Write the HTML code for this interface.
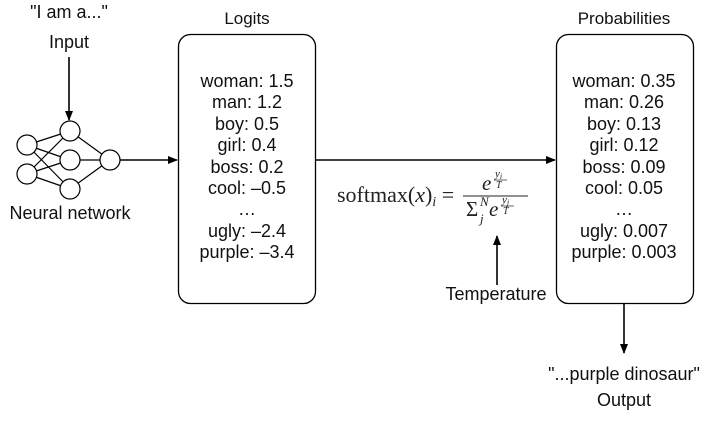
<!DOCTYPE html>
<html><head><style>
html,body{margin:0;padding:0;background:#fff;}
svg{display:block;}
.t{font-family:"Liberation Sans",sans-serif;font-size:18px;fill:#111;}
.m{font-family:"Liberation Serif",serif;fill:#222;}
</style></head><body>
<svg width="703" height="422" viewBox="0 0 703 422" xmlns="http://www.w3.org/2000/svg">
<defs><marker id="a" markerWidth="10" markerHeight="10" refX="9" refY="5" orient="auto" markerUnits="userSpaceOnUse"><path d="M0,1 L10,5 L0,9 Z" fill="#000"/></marker></defs>
<g class="t" text-anchor="middle">
<text x="69" y="18">"I am a..."</text>
<text x="69" y="48">Input</text>
<text x="70" y="219">Neural network</text>
<text x="247" y="24" font-size="17">Logits</text>
<text x="624" y="24" font-size="17">Probabilities</text>
<text x="247" y="87">woman: 1.5</text>
<text x="247" y="108">man: 1.2</text>
<text x="247" y="130">boy: 0.5</text>
<text x="247" y="151">girl: 0.4</text>
<text x="247" y="173">boss: 0.2</text>
<text x="247" y="194">cool: –0.5</text>
<text x="247" y="215">…</text>
<text x="247" y="237">ugly: –2.4</text>
<text x="247" y="258">purple: –3.4</text>
<text x="624" y="87">woman: 0.35</text>
<text x="624" y="108">man: 0.26</text>
<text x="624" y="130">boy: 0.13</text>
<text x="624" y="151">girl: 0.12</text>
<text x="624" y="173">boss: 0.09</text>
<text x="624" y="194">cool: 0.05</text>
<text x="624" y="215">…</text>
<text x="624" y="237">ugly: 0.007</text>
<text x="624" y="258">purple: 0.003</text>
<text x="496" y="300">Temperature</text>
<text x="624" y="380">"...purple dinosaur"</text>
<text x="624" y="406">Output</text>
</g>
<rect x="178.5" y="34.5" width="137" height="269" rx="12" fill="none" stroke="#000" stroke-width="1.3"/>
<rect x="556.5" y="34.5" width="137" height="269" rx="12" fill="none" stroke="#000" stroke-width="1.3"/>
<g stroke="#000" stroke-width="1.2" fill="none">
<line x1="27" y1="145" x2="70" y2="131"/><line x1="27" y1="145" x2="70" y2="160"/><line x1="27" y1="145" x2="70" y2="189"/>
<line x1="27" y1="174" x2="70" y2="131"/><line x1="27" y1="174" x2="70" y2="160"/><line x1="27" y1="174" x2="70" y2="189"/>
<line x1="70" y1="131" x2="110" y2="160"/><line x1="70" y1="160" x2="110" y2="160"/><line x1="70" y1="189" x2="110" y2="160"/>
</g>
<g stroke="#000" stroke-width="1.2" fill="#fff">
<circle cx="27" cy="145" r="10"/><circle cx="27" cy="174" r="10"/>
<circle cx="70" cy="131" r="10"/><circle cx="70" cy="160" r="10"/><circle cx="70" cy="189" r="10"/>
<circle cx="110" cy="160" r="10"/>
</g>
<g stroke="#000" stroke-width="1.6" fill="none">
<line x1="69" y1="57" x2="69" y2="120" marker-end="url(#a)"/>
<line x1="120" y1="160" x2="177" y2="160" marker-end="url(#a)"/>
<line x1="316" y1="160" x2="555" y2="160" marker-end="url(#a)"/>
<line x1="497" y1="285" x2="497" y2="236" marker-end="url(#a)"/>
<line x1="624" y1="304" x2="624" y2="353" marker-end="url(#a)"/>
</g>
<text class="m" x="337" y="202" font-size="22">softmax(<tspan font-style="italic">x</tspan>)<tspan font-size="14" font-style="italic" dy="4">i</tspan><tspan dy="-4"> =</tspan></text>
<line x1="463" y1="196" x2="528" y2="196" stroke="#222" stroke-width="1"/>
<text class="m" x="482" y="190" font-size="21" font-style="italic">e</text>
<text class="m" x="495" y="177" font-size="11" font-style="italic">y<tspan font-size="8" dy="2">i</tspan></text>
<line x1="494" y1="180" x2="507" y2="180" stroke="#222" stroke-width="0.7"/>
<text class="m" x="496" y="188" font-size="10" font-style="italic">T</text>
<text class="m" x="466" y="216" font-size="21">Σ</text>
<text class="m" x="480" y="206" font-size="13" font-style="italic">N</text>
<text class="m" x="480" y="223" font-size="13" font-style="italic">j</text>
<text class="m" x="489" y="216" font-size="21" font-style="italic">e</text>
<text class="m" x="502" y="203" font-size="11" font-style="italic">y<tspan font-size="8" dy="2">j</tspan></text>
<line x1="501" y1="206" x2="514" y2="206" stroke="#222" stroke-width="0.7"/>
<text class="m" x="503" y="214" font-size="10" font-style="italic">T</text>
</svg>
</body></html>
